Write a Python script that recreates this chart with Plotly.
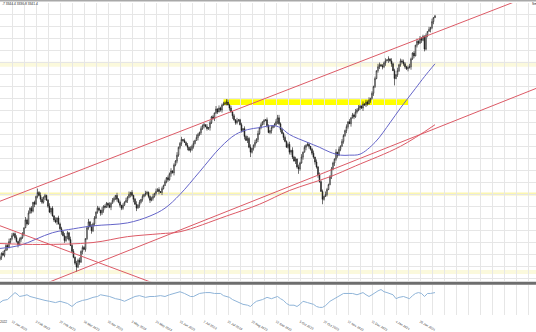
import plotly.graph_objects as go

# ---------------- data ----------------
START_BAR = 8          # first visible bar index (bar 0 = 22 Dec 2022)
FIRST_OPEN = 2598

CLOSE = [
    2604, 2616, 2610, 2625, 2640, 2634, 2652, 2661, 2670, 2676,
    2664, 2652, 2643, 2658, 2664, 2676, 2694, 2718, 2706, 2739,
    2754, 2745, 2772, 2766, 2790, 2802, 2793, 2781, 2772, 2787,
    2793, 2778, 2760, 2742, 2754, 2730, 2718, 2712, 2724, 2706,
    2691, 2682, 2670, 2655, 2667, 2679, 2658, 2640, 2622, 2604,
    2586, 2574, 2595, 2589, 2622, 2634, 2628, 2661, 2694, 2712,
    2697, 2685, 2706, 2724, 2742, 2754, 2748, 2739, 2748, 2760,
    2757, 2769, 2763, 2757, 2769, 2778, 2784, 2793, 2781, 2772,
    2763, 2754, 2763, 2772, 2778, 2787, 2796, 2802, 2793, 2781,
    2766, 2754, 2763, 2772, 2781, 2790, 2796, 2799, 2802, 2790,
    2778, 2784, 2790, 2799, 2805, 2811, 2805, 2802, 2814, 2823,
    2835, 2847, 2841, 2859, 2868, 2862, 2886, 2898, 2916, 2940,
    2952, 2964, 2961, 2955, 2946, 2940, 2931, 2934, 2943, 2952,
    2961, 2970, 2979, 2985, 2997, 3006, 3009, 3003, 2997, 3000,
    3015, 3033, 3027, 3045, 3057, 3048, 3060, 3054, 3069, 3072,
    3075, 3078, 3069, 3060, 3048, 3036, 3024, 3015, 3021, 3024,
    3009, 2991, 2997, 2973, 2961, 2967, 2940, 2925, 2937, 2946,
    2955, 2964, 2982, 3000, 3009, 3018, 3021, 3024, 3006, 2985,
    2991, 3000, 3006, 3009, 3018, 3030, 3012, 2994, 2982, 2970,
    2958, 2940, 2949, 2925, 2931, 2910, 2898, 2904, 2880, 2874,
    2892, 2910, 2925, 2940, 2946, 2949, 2943, 2934, 2922, 2910,
    2895, 2880, 2856, 2835, 2805, 2781, 2790, 2796, 2811, 2826,
    2850, 2874, 2892, 2904, 2925, 2916, 2934, 2943, 2958, 2976,
    2991, 3003, 3018, 3012, 3030, 3039, 3033, 3048, 3054, 3060,
    3066, 3060, 3072, 3069, 3078, 3072, 3084, 3090, 3105, 3126,
    3150, 3174, 3186, 3192, 3189, 3186, 3198, 3204, 3207, 3210,
    3204, 3195, 3174, 3150, 3162, 3174, 3192, 3204, 3201, 3195,
    3186, 3180, 3183, 3186, 3210, 3228, 3219, 3252, 3264, 3258,
    3273, 3267, 3279, 3240, 3282, 3294, 3300, 3306, 3324, 3336,
    3341.4,
]

UP_WICK = ("5372649183" "4726351948" "3615284973" "5249163827" "4638251947"
           "2758364159" "3846275193" "6429375184" "5163849272" "4937162853"
           "3582947163" "6274815392" "4816372958" "2953746182" "7361928457"
           "5184736292" "3627485913" "8493615274" "2715839464" "6358194727"
           "4926375148" "1837462953" "5642918374" "3718264959" "4283759162"
           "6197354828" "2846193757" "5379426183" "7453618292" "3")
DOWN_WICK = ("4816293752" "6392748153" "2749163854" "8153726492" "3927485163"
             "5638291746" "1947352868" "4283916573" "7652183949" "2918473656"
             "8374619283" "1563928475" "6842193757" "3195748264" "9427361582"
             "4718293653" "2659183747" "7384529162" "5926374818" "3147862953"
             "6281937465" "8593174262" "2749583617" "4861927354" "7392651848"
             "5267384919" "3918274656" "6482937175" "2837461958" "1")
UP_EXTRA = {33: 12, 159: 9, 193: 9}
DOWN_EXTRA = {59: 15, 175: 15, 207: 15, 223: 15, 271: 21}

# moving averages (bar index, value)
BLUE_MA_BARS = [8, 21, 43, 57, 70, 93, 108, 118, 128, 141, 155, 165, 173, 181, 190,
                195, 201, 213, 221, 228, 235, 241, 248, 258, 268, 275, 285, 291, 298]
BLUE_MA_VALS = [2631, 2640, 2679, 2691, 2700, 2709, 2730, 2754, 2796, 2865, 2940, 2979,
                2994, 3000, 3006, 3000, 2979, 2955, 2940, 2925, 2916, 2916, 2919, 2955,
                3015, 3060, 3120, 3156, 3195]
RED_MA_BARS = [8, 35, 70, 93, 115, 128, 159, 181, 201, 228, 245, 275, 298]
RED_MA_VALS = [2646, 2643, 2649, 2667, 2676, 2682, 2730, 2766, 2808, 2850, 2883, 2943, 3009]

# trend lines (bar index, value) pairs
TREND_LINES = [
    ([0, 366], [2761, 3411]),     # upper channel
    ([38, 366], [2523, 3121]),    # lower channel from March low
    ([0, 115], [2714, 2517]),     # falling line from January
]

# horizontal zones (low, high)
PALE_ZONES = [(3186, 3201), (2793, 2802), (2553, 2565)]
PALE_COLORS = ["#fbf9dc", "#fbf6b0", "#fbf9dc"]
STRONG_ZONE_BARS = (157, 280)
STRONG_ZONE_VALS = (3069, 3087)

# RSI
RSI_BARS = [8, 10, 13, 16, 18, 20, 21, 24, 26, 28, 30, 33, 35, 38, 41, 45, 48, 51, 53, 56,
            58, 59, 63, 66, 70, 73, 75, 78, 81, 85, 88, 91, 95, 98, 101, 105, 108, 111, 115,
            118, 121, 124, 128, 131, 133, 135, 137, 139, 141, 145, 148, 151, 155, 157, 159,
            161, 163, 167, 170, 173, 175, 177, 179, 183, 186, 189, 193, 195, 197, 199, 201,
            204, 206, 208, 210, 213, 215, 217, 219, 221, 223, 225, 228, 231, 233, 235, 237,
            240, 243, 246, 248, 250, 252, 254, 256, 258, 260, 262, 264, 266, 268, 270, 272,
            274, 277, 279, 281, 283, 285, 287, 289, 291, 293, 295, 297, 298]
RSI_VALS = [49, 54, 56, 65, 72, 67, 63, 65, 67, 63, 61, 58, 56, 54, 52, 49, 52, 49, 47, 40,
            45, 49, 54, 56, 61, 63, 67, 65, 63, 58, 56, 52, 58, 63, 65, 61, 63, 63, 65,
            63, 67, 70, 74, 70, 67, 63, 63, 67, 70, 72, 72, 70, 70, 65, 63,
            61, 56, 49, 45, 43, 40, 47, 52, 56, 61, 58, 63, 58, 54, 47, 43,
            43, 40, 45, 52, 49, 47, 45, 40, 38, 38, 42, 52, 58, 63, 67, 70,
            70, 70, 67, 70, 72, 67, 63, 67, 72, 76, 79, 74, 72, 70, 67, 58,
            61, 63, 61, 58, 65, 70, 72, 70, 63, 70, 70, 72, 72]

DATE_BARS = [0, 16, 32, 48, 64, 80, 96, 112, 128, 144, 160, 176, 192, 208, 224, 240, 256, 272, 288]
DATE_LABELS = ["22 Dec 2022", "12 Jan 2023", "3 Feb 2023", "27 Feb 2023", "18 Mar 2023",
               "10 Apr 2023", "3 May 2023", "24 May 2023", "15 Jun 2023", "7 Jul 2023",
               "31 Jul 2023", "22 Aug 2023", "12 Sep 2023", "5 Oct 2023", "27 Oct 2023",
               "17 Nov 2023", "11 Dec 2023", "4 Jan 2024", "26 Jan 2024"]

HEADER_TEXT = ".7 3344.4 3336.8 3341.4"
CORNER_TEXT = "Sm"

# ---------------- build ----------------
bars = list(range(START_BAR, START_BAR + len(CLOSE)))
opens = [FIRST_OPEN] + CLOSE[:-1]
highs, lows = [], []
for k, b in enumerate(bars):
    o, c = opens[k], CLOSE[k]
    highs.append(max(o, c) + UP_EXTRA.get(b, int(UP_WICK[k])))
    lows.append(min(o, c) - DOWN_EXTRA.get(b, int(DOWN_WICK[k])))

W, H = 536, 332
X_RANGE = [8, 365.33]
Y_RANGE = [2530.5, 3381]
RSI_RANGE = [20, 90]
GRID = "#e6e6e6"
RED = "#dc5a66"

fig = go.Figure()

fig.add_trace(go.Candlestick(
    x=bars, open=opens, high=highs, low=lows, close=CLOSE,
    increasing=dict(line=dict(color="#111111", width=0.6), fillcolor="#ffffff"),
    decreasing=dict(line=dict(color="#111111", width=0.6), fillcolor="#111111"),
    whiskerwidth=0, showlegend=False, hoverinfo="skip", xaxis="x", yaxis="y",
))

fig.add_trace(go.Scatter(x=BLUE_MA_BARS, y=BLUE_MA_VALS, mode="lines",
                         line=dict(color="#6464c8", width=1, shape="spline"),
                         showlegend=False, hoverinfo="skip", xaxis="x", yaxis="y"))
fig.add_trace(go.Scatter(x=RED_MA_BARS, y=RED_MA_VALS, mode="lines",
                         line=dict(color=RED, width=1, shape="spline"),
                         showlegend=False, hoverinfo="skip", xaxis="x", yaxis="y"))
for xs, ys in TREND_LINES:
    fig.add_trace(go.Scatter(x=xs, y=ys, mode="lines", line=dict(color=RED, width=1),
                             showlegend=False, hoverinfo="skip", xaxis="x", yaxis="y"))

fig.add_trace(go.Scatter(x=RSI_BARS, y=RSI_VALS, mode="lines",
                         line=dict(color="#8fb4d8", width=1),
                         showlegend=False, hoverinfo="skip", xaxis="x2", yaxis="y2"))

shapes = []
for (lo, hi), col in zip(PALE_ZONES, PALE_COLORS):
    shapes.append(dict(type="rect", xref="x domain", yref="y", x0=0, x1=1, y0=lo, y1=hi,
                       fillcolor=col, line=dict(width=0), layer="below"))
shapes.append(dict(type="rect", xref="x", yref="y",
                   x0=STRONG_ZONE_BARS[0], x1=STRONG_ZONE_BARS[1],
                   y0=STRONG_ZONE_VALS[0], y1=STRONG_ZONE_VALS[1],
                   fillcolor="#ffff00", line=dict(width=0), layer="below"))
# separator between panels and top border
shapes.append(dict(type="line", xref="paper", yref="paper", x0=0, x1=1,
                   y0=(H - 288.5) / H, y1=(H - 288.5) / H, line=dict(color="#6e6e6e", width=3)))
shapes.append(dict(type="line", xref="paper", yref="paper", x0=0, x1=1,
                   y0=(H - 0.75) / H, y1=(H - 0.75) / H, line=dict(color="#a8a8a8", width=1.5)))

annotations = [
    dict(text=HEADER_TEXT, xref="paper", yref="paper", x=0, y=(H - 4.2) / H,
         xanchor="left", yanchor="middle", showarrow=False,
         font=dict(size=3.3, color="#222", family="Liberation Sans")),
    dict(text=CORNER_TEXT, xref="paper", yref="paper", x=530 / W, y=(H - 4.5) / H,
         xanchor="left", yanchor="middle", showarrow=False,
         font=dict(size=3.3, color="#222", family="Liberation Sans")),
    dict(text=DATE_LABELS[0], xref="paper", yref="paper", x=0, xshift=9, y=(H - 327.5) / H,
         xanchor="right", yanchor="middle", showarrow=False,
         font=dict(size=3.2, color="#333", family="Liberation Sans")),
]

xgrid = dict(showgrid=True, gridcolor=GRID, gridwidth=1, zeroline=False,
             tickmode="array", tickvals=DATE_BARS,
             minor=dict(tickmode="linear", tick0=0, dtick=8, showgrid=True,
                        gridcolor=GRID, gridwidth=1, ticks=""),
             range=X_RANGE, ticks="", showline=False, fixedrange=True)

fig.update_layout(
    width=W, height=H, margin=dict(l=0, r=0, t=0, b=0),
    paper_bgcolor="white", plot_bgcolor="white",
    shapes=shapes, annotations=annotations,
    xaxis=dict(**xgrid, anchor="y", domain=[0, 1], showticklabels=False,
               rangeslider=dict(visible=False)),
    xaxis2=dict(**xgrid, anchor="y2", domain=[0, 1], matches="x",
                ticktext=DATE_LABELS, showticklabels=True,
                ticklabelposition="outside right", ticklabelstandoff=3,
                tickfont=dict(size=3.2, color="#333", family="Liberation Sans")),
    yaxis=dict(domain=[(H - 286.5) / H, (H - 3) / H], range=Y_RANGE,
               showgrid=True, gridcolor=GRID, tickmode="linear", tick0=3345, dtick=36.6,
               showticklabels=False, zeroline=False, ticks="", fixedrange=True),
    yaxis2=dict(domain=[(H - 321) / H, (H - 290) / H], range=RSI_RANGE,
                showgrid=False, showticklabels=False, zeroline=False, ticks="",
                fixedrange=True),
    showlegend=False,
)

fig.write_html("out.html")
